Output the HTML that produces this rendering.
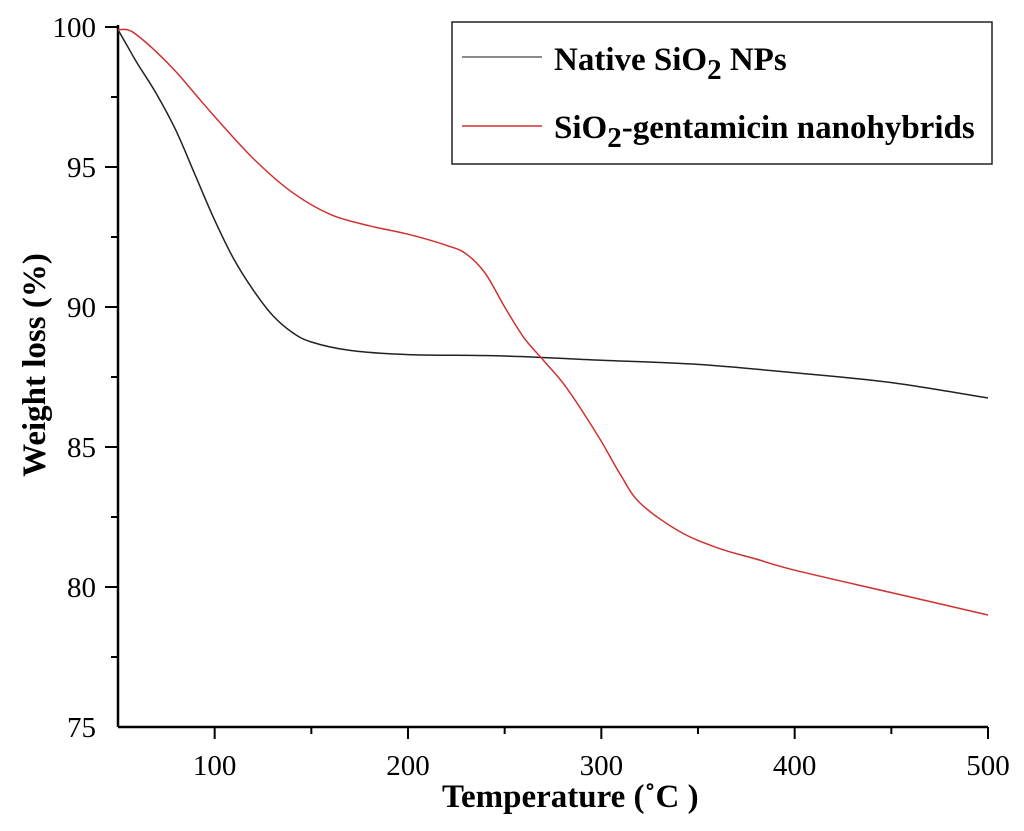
<!DOCTYPE html>
<html><head><meta charset="utf-8"><style>
body{margin:0;background:#fff;}
svg text{font-family:"Liberation Serif",serif;}
</style></head><body>
<svg id="chart" width="1024" height="826" viewBox="0 0 1024 826">
<g id="axes"></g>
<g id="series"></g>
<g>
<rect x="452" y="22" width="540" height="142" fill="#fff" stroke="#222" stroke-width="1.5"/>
<line x1="462" y1="57" x2="542" y2="57" stroke="#666" stroke-width="1.5"/>
<text x="554" y="70" font-size="33" font-weight="bold">Native SiO<tspan font-size="29" dy="9">2</tspan><tspan dy="-9"> NPs</tspan></text>
<line x1="462" y1="126" x2="542" y2="126" stroke="#d03030" stroke-width="1.5"/>
<text x="554" y="138" font-size="33" font-weight="bold">SiO<tspan font-size="29" dy="9">2</tspan><tspan dy="-9">-gentamicin nanohybrids</tspan></text>
</g>
<text x="442" y="807" font-size="33" font-weight="bold">Temperature (˚C )</text>
<text transform="translate(45,365) rotate(-90)" font-size="33" font-weight="bold" text-anchor="middle">Weight loss (%)</text>
</svg>
<script>
const xTicks=[100,200,300,400,500];
const yTicks=[75,80,85,90,95,100];
const nativeT=[50,55,60,70,80,90,100,110,120,130,140,150,170,200,250,300,350,400,450,500];
const nativeW=[99.9,99.3,98.7,97.6,96.3,94.7,93.1,91.7,90.6,89.7,89.1,88.75,88.45,88.3,88.25,88.1,87.95,87.65,87.3,86.75];
const hybridT=[50,55,60,70,80,90,100,120,140,160,180,200,220,230,240,250,260,270,280,290,300,310,320,340,360,380,400,450,500];
const hybridW=[99.9,99.9,99.7,99.1,98.4,97.6,96.8,95.3,94.1,93.3,92.9,92.6,92.2,91.9,91.2,90.0,88.9,88.1,87.3,86.3,85.2,84.0,83.0,82.0,81.4,81.0,80.6,79.8,79.0];
const X0=118,X1=988,Y0=727,Y1=27;
const sx=t=>X0+(t-50)/(500-50)*(X1-X0);
const sy=w=>Y0-(w-75)/(100-75)*(Y0-Y1);
const NS="http://www.w3.org/2000/svg";
const axes=document.getElementById('axes');
function mk(tag,attrs,parent){const e=document.createElementNS(NS,tag);for(const k in attrs)e.setAttribute(k,attrs[k]);parent.appendChild(e);return e;}
let a=mk('line',{x1:X0,y1:Y0,x2:X1,y2:Y0,stroke:'#000','stroke-width':2.5},axes);


a=mk('line',{x1:X0,y1:Y0,x2:X0,y2:Y1-2,stroke:'#000','stroke-width':2.5},axes);


for(let t=100;t<=500;t+=50){const maj=t%100===0;const l=mk('line',{x1:sx(t),y1:Y0,x2:sx(t),y2:Y0+(maj?12:7),stroke:'#000','stroke-width':2},axes);

}
xTicks.forEach(t=>{const e=mk('text',{x:sx(t),y:775,'font-size':29,'text-anchor':'middle'},axes);e.textContent=t;

});
for(let w=77.5;w<=100;w+=2.5){const maj=w%5===0;const l=mk('line',{x1:X0,y1:sy(w),x2:X0-(maj?13:7),y2:sy(w),stroke:'#000','stroke-width':2},axes);

}
yTicks.forEach(w=>{const e=mk('text',{x:96,y:sy(w)+10,'font-size':29,'text-anchor':'end'},axes);e.textContent=w;

});
function path(T,W){const p=T.map((t,i)=>[sx(t),sy(W[i])]);let d='M'+p[0][0]+','+p[0][1];
for(let i=0;i<p.length-1;i++){const p0=p[Math.max(0,i-1)],p1=p[i],p2=p[i+1],p3=p[Math.min(p.length-1,i+2)];
d+=' C'+(p1[0]+(p2[0]-p0[0])/6)+','+(p1[1]+(p2[1]-p0[1])/6)+' '+(p2[0]-(p3[0]-p1[0])/6)+','+(p2[1]-(p3[1]-p1[1])/6)+' '+p2[0]+','+p2[1];}return d;}
const s=document.getElementById('series');
let p=mk('path',{d:path(nativeT,nativeW),fill:'none',stroke:'#222','stroke-width':1.5},s);


p=mk('path',{d:path(hybridT,hybridW),fill:'none',stroke:'#d03030','stroke-width':1.5},s);


</script>
</body></html>
